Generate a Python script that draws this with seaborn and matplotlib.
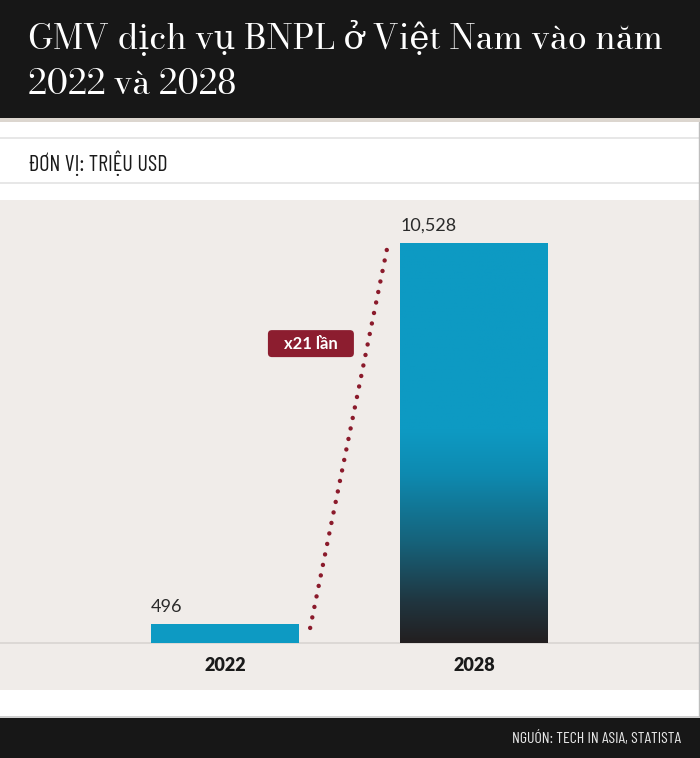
import numpy as np
import pandas as pd
import matplotlib
matplotlib.use("Agg")
import matplotlib.pyplot as plt
import matplotlib.transforms as mtransforms
import seaborn as sns
from matplotlib.colors import LinearSegmentedColormap
from matplotlib.patches import Rectangle, FancyBboxPatch

# ---- data ----
years = ["2022", "2028"]
values = [496, 10528]
value_labels = ["496", "10,528"]
title_lines = ["GMV dịch vụ BNPL ở Việt Nam vào năm", "2022 và 2028"]
unit_text = "ĐƠN VỊ: TRIỆU USD"
source_text = "NGUÓN: TECH IN ASIA, STATISTA"
growth_label = "x%d lần" % round(values[1] / values[0])

df = pd.DataFrame({"year": years, "value": values})

sns.set_theme(style="white")
plt.rcParams["font.family"] = ["Lato", "DejaVu Sans"]

W, H = 700, 758
fig = plt.figure(figsize=(W / 100, H / 100), dpi=100)
fig.patch.set_facecolor("white")

def fy(y):
    return 1 - y / H

def fx(x):
    return x / W

# header band
fig.patches.append(Rectangle((0, fy(118)), 1, 118 / H, transform=fig.transFigure,
                             facecolor="#171717", edgecolor="none", zorder=0))
fig.patches.append(Rectangle((0, fy(122)), 1, 4 / H, transform=fig.transFigure,
                             facecolor="#dcd6cf", edgecolor="none", zorder=0))
# footer band
fig.patches.append(Rectangle((0, 0), 1, 40 / H, transform=fig.transFigure,
                             facecolor="#171717", edgecolor="none", zorder=0))
fig.patches.append(Rectangle((0, fy(718)), 1, 2 / H, transform=fig.transFigure,
                             facecolor="#cfcfcf", edgecolor="none", zorder=0))
# separator lines around unit text
for yy in (138, 183):
    fig.add_artist(plt.Line2D([0, 1], [fy(yy), fy(yy)], transform=fig.transFigure,
                              color="#e3e3e3", lw=1.2))
# right border line
fig.add_artist(plt.Line2D([fx(698.5), fx(698.5)], [fy(122), fy(716)], transform=fig.transFigure,
                          color="#bdbdbd", lw=1))

# title
serif = ["Bodoni Moda", "DejaVu Serif"]
fig.text(fx(28), fy(40), title_lines[0], color="white", fontsize=24.5, family=serif,
         va="center", ha="left")
fig.text(fx(28), fy(85), title_lines[1], color="white", fontsize=24.5, family=serif,
         va="center", ha="left")

narrow = ["Barlow Condensed", "DejaVu Sans"]
fig.text(fx(28), fy(163), unit_text, color="#1a1a1a", fontsize=16, family=narrow,
         va="center", ha="left")
fig.text(fx(681), fy(739), source_text, color="#e8e8e8", fontsize=11.5, family=narrow,
         va="center", ha="right")

# ---- plot axes ----
ax_top, ax_bot = 200, 690
ax = fig.add_axes([0, fy(ax_bot), 1, (ax_bot - ax_top) / H])
ax.set_facecolor("#f0ece9")

sns.barplot(data=df, x="year", y="value", ax=ax, color="#0d9ac3", width=0.594,
            saturation=1, edgecolor="none", zorder=3)

# scales: baseline at y=643px, top value at 243px
R = 12896.8
ylo = -1237.0
ax.set_ylim(ylo, ylo + R)
ax.set_xlim(-225 / 249, 475 / 249)
for s in ax.spines.values():
    s.set_visible(False)
ax.set_xticks([])
ax.set_yticks([])
ax.set_xlabel("")
ax.set_ylabel("")
ax.axhline(0, color="#d8d5d2", lw=1.2, zorder=2)

# gradient on the 2028 bar
patches = ax.patches
bar = patches[1]
bx, by = bar.get_x(), bar.get_y()
bw, bh = bar.get_width(), bar.get_height()
bar.set_facecolor("none")
cmap = LinearSegmentedColormap.from_list(
    "g", [(0.0, "#231f20"), (0.1, "#20353f"), (0.25, "#16627a"),
          (0.42, "#0e8ab0"), (0.53, "#0d9ac3"), (1.0, "#0d9ac3")])
grad = np.linspace(0, 1, 256).reshape(-1, 1)
im = ax.imshow(grad, cmap=cmap, origin="lower", aspect="auto",
               extent=[bx, bx + bw, by, by + bh], zorder=3)
im.set_clip_path(bar)
ax.set_ylim(ylo, ylo + R)
ax.set_xlim(-225 / 249, 475 / 249)

# value labels, left aligned at bar edges
for p, lab in zip(patches, value_labels):
    ax.text(p.get_x(), p.get_height() + 460, lab, ha="left", va="center",
            fontsize=13, color="#2a2a2a", fontweight="normal", zorder=5)

# year labels
for i, yr in enumerate(years):
    ax.text(i, -605, yr, ha="center", va="center", fontsize=13,
            fontweight="heavy", color="#1a1a1a", zorder=5)

# dotted connector
x0 = patches[0].get_x() + patches[0].get_width() + 0.045
x1 = patches[1].get_x() - 0.045
ax.plot([x0, x1], [values[0] * 0.8, values[1] * 1.008], color="#8b1a2b", lw=3.2,
        linestyle=(0, (0.01, 2.4)), dash_capstyle="round", zorder=4)

# growth label with box
lx, ly = 0.345, 7880
box_tr = fig.dpi_scale_trans + mtransforms.ScaledTranslation(lx, ly, ax.transData)
ax.add_artist(FancyBboxPatch((-0.43, -0.135), 0.86, 0.27, transform=box_tr,
                             boxstyle="round,pad=0,rounding_size=0.04",
                             fc="#8c1d2f", ec="none", zorder=6))
ax.text(lx, ly, growth_label, ha="center", va="center", fontsize=12,
        fontweight="bold", color="white", zorder=7)

fig.savefig("out.png", dpi=100, facecolor=fig.get_facecolor())
